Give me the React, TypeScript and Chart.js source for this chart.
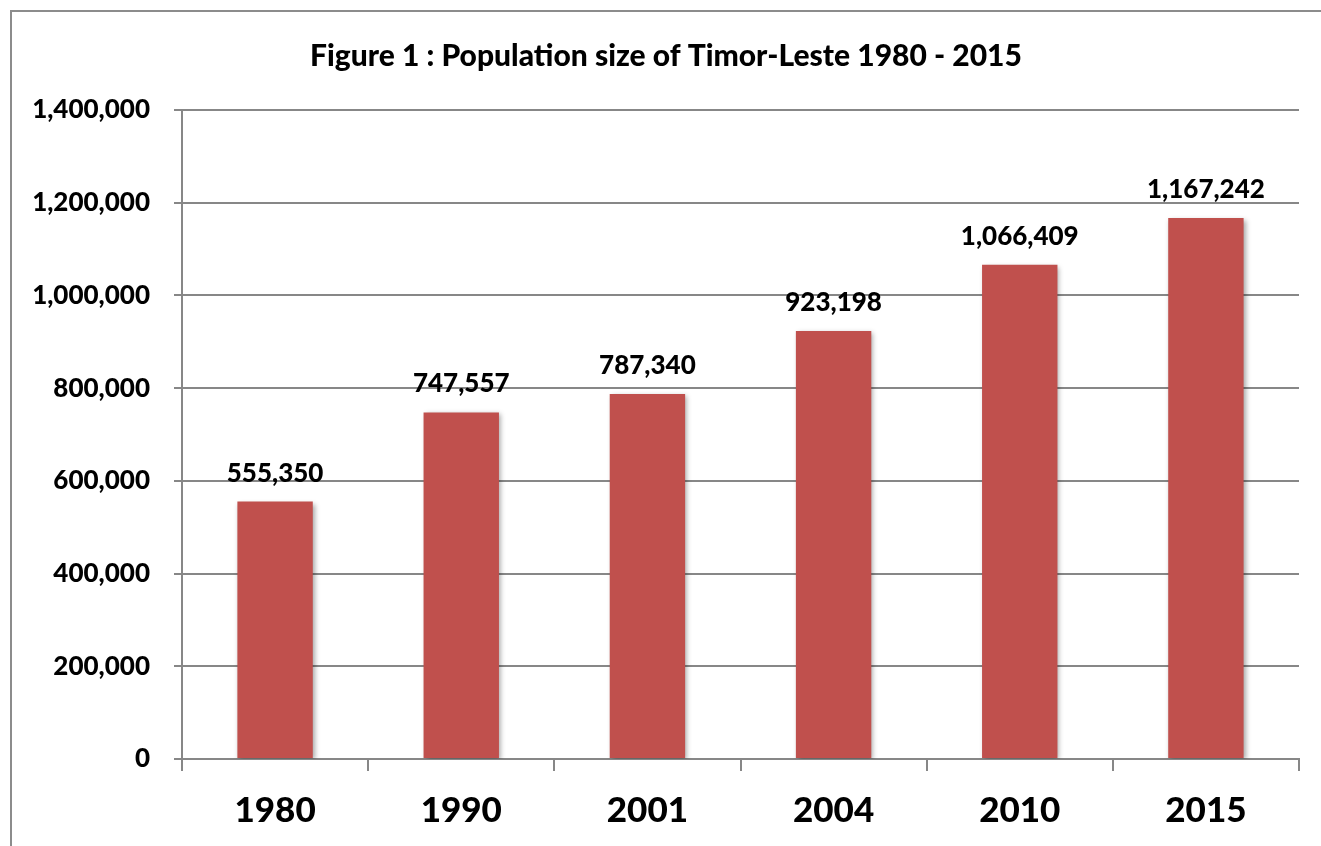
import React, { useEffect, useRef } from "react";
import { Chart, registerables } from "chart.js";

Chart.register(...registerables);

const years = ["1980", "1990", "2001", "2004", "2010", "2015"];
const population = [555350, 747557, 787340, 923198, 1066409, 1167242];
const yMax = 1400000;
const yStep = 200000;
const titleText = "Figure 1 : Population size of Timor-Leste 1980 - 2015";

const fmt = (v: number) => v.toLocaleString("en-US");

const frameBorder = {
  id: "frameBorder",
  beforeDraw(chart: any) {
    const ctx = chart.ctx;
    ctx.save();
    ctx.fillStyle = "#ffffff";
    ctx.fillRect(0, 0, chart.width, chart.height);
    ctx.strokeStyle = "#8c8c8c";
    ctx.lineWidth = 2;
    ctx.strokeRect(11, 11, chart.width + 40, chart.height + 40);
    ctx.restore();
  },
};

const barShadow = {
  id: "barShadow",
  beforeDatasetDraw(chart: any) {
    const ctx = chart.ctx;
    ctx.save();
    ctx.shadowColor = "rgba(0,0,0,0.35)";
    ctx.shadowBlur = 5;
    ctx.shadowOffsetX = 2;
    ctx.shadowOffsetY = 2;
  },
  afterDatasetDraw(chart: any) {
    chart.ctx.restore();
  },
};

const valueLabels = {
  id: "valueLabels",
  afterDatasetsDraw(chart: any) {
    const ctx = chart.ctx;
    const meta = chart.getDatasetMeta(0);
    const data = chart.data.datasets[0].data as number[];
    ctx.save();
    ctx.font = "900 26px Lato";
    ctx.fillStyle = "#000000";
    ctx.textAlign = "center";
    ctx.textBaseline = "alphabetic";
    meta.data.forEach((bar: any, i: number) => {
      ctx.fillText(fmt(data[i]), bar.x, bar.y - 20);
    });
    ctx.restore();
  },
};

export default function App() {
  const canvasRef = useRef<HTMLCanvasElement | null>(null);

  useEffect(() => {
    if (!canvasRef.current) return;
    const gridColor = "#878787";
    const chart = new Chart(canvasRef.current, {
      type: "bar",
      data: {
        labels: years,
        datasets: [
          {
            data: population,
            backgroundColor: "#C0504D",
            borderWidth: 0,
            categoryPercentage: 1,
            barPercentage: 0.405,
          },
        ],
      },
      options: {
        animation: false,
        responsive: false,
        devicePixelRatio: 1,
        layout: { padding: { left: 33, right: 22, top: 0, bottom: 0 } },
        plugins: {
          legend: { display: false },
          tooltip: { enabled: false },
          title: {
            display: true,
            text: titleText,
            color: "#000000",
            font: { family: "Lato", weight: 900, size: 30 },
            padding: { top: 38, bottom: 36 },
          },
        },
        scales: {
          x: {
            grid: {
              display: true,
              drawOnChartArea: false,
              drawTicks: true,
              tickLength: 12,
              color: gridColor,
              lineWidth: 2,
              offset: true,
            },
            border: { display: true, color: gridColor, width: 2 },
            ticks: {
              color: "#000000",
              font: { family: "Lato", weight: 900, size: 35 },
              padding: 19,
            },
            afterFit(scale: any) {
              scale.height = 87;
            },
          },
          y: {
            min: 0,
            max: yMax,
            grid: {
              color: gridColor,
              lineWidth: 2,
              drawTicks: true,
              tickLength: 8,
            },
            border: { display: true, color: gridColor, width: 2 },
            ticks: {
              stepSize: yStep,
              color: "#000000",
              font: { family: "Lato", weight: 900, size: 26 },
              padding: 24,
              callback: (v: any) => fmt(Number(v)),
            },
            afterFit(scale: any) {
              scale.width = 149;
            },
          },
        },
      },
      plugins: [frameBorder, barShadow, valueLabels],
    });
    return () => chart.destroy();
  }, []);

  return (
    <div style={{ position: "fixed", left: 0, top: 0, width: 1321, height: 846, overflow: "hidden", background: "#fff" }}>
      <canvas ref={canvasRef} width={1321} height={846} style={{ width: 1321, height: 846, display: "block" }} />
    </div>
  );
}
